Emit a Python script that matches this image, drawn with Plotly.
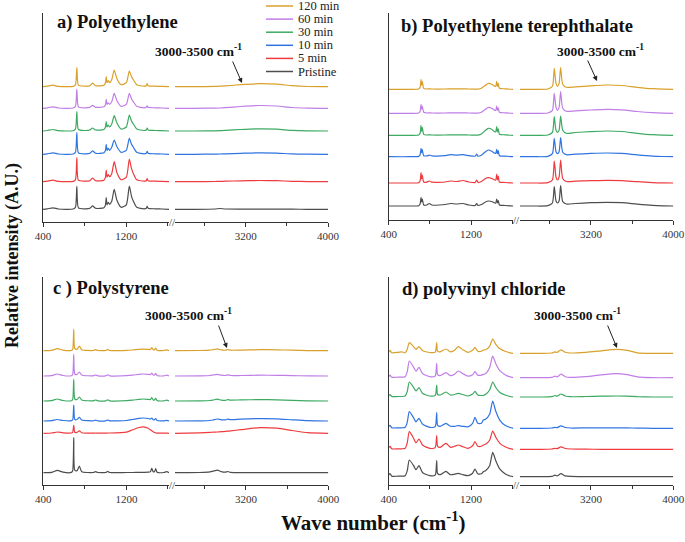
import plotly.graph_objects as go

# ---------------- data ----------------
SERIES = ["120 min", "60 min", "30 min", "10 min", "5 min", "Pristine"]
COLORS = ["#D9A12B", "#C07EE6", "#3DAA62", "#2F74E0", "#EE3B3F", "#4D4D4D"]
TITLES = ["a) Polyethylene", "b) Polyethylene terephthalate", "c ) Polystyrene", "d) polyvinyl chloride"]

# vertical stacking offsets (120, 60, 30, 10, 5, Pristine)
PE_OFFSETS = [135.3, 113.7, 91, 67.7, 40.3, 12.7]
PET_OFFSETS = [130.7, 106.7, 84.7, 63.3, 37, 14]
PS_OFFSETS = [134.3, 109, 84, 64, 51.7, 12.3]
PVC_OFFSETS = [131.7, 107.3, 88, 56.7, 35.7, 8.3]

# ---- a) Polyethylene ----
PE_LX = [400, 440, 496, 550, 690, 712, 725, 740, 800, 850, 875, 905, 985, 1000, 1007, 1015, 1027, 1040,
         1060, 1084, 1110, 1150, 1200, 1229, 1250, 1268, 1300, 1370, 1392, 1400, 1410, 1480, 1540, 1610]
PE_L_120 = [0, 0.5, 1.5, 0.3, 0.3, 2, 19, 1.5, 0.5, 1, 3.5, 1, 1.5, 4, 10, 4, 6, 4, 7, 16.7, 8, 2, 4, 15.7, 10, 7, 2, 0.5, 1, 3, 1, 0.5, 0.3, 0]
PE_L_60 = [0, 0.5, 1.5, 0.3, 0.3, 2, 19, 1.5, 0.5, 1, 3, 1, 1.5, 3.5, 9, 4, 5.5, 4, 6.5, 15, 7.5, 2, 4, 15, 9.5, 6.5, 2, 0.5, 1, 2.5, 1, 0.5, 0.3, 0]
PE_L_30 = [0, 0.5, 1.5, 0.3, 0.3, 2, 19.3, 1.5, 0.5, 1, 3, 1, 1.5, 4, 9.5, 4, 6, 4, 7, 15.3, 8, 2, 4, 16, 10, 7, 2, 0.5, 1, 3, 1, 0.5, 0.3, 0]
PE_L_10 = [0, 0.5, 1.5, 0.3, 0.3, 2, 21.7, 1.5, 0.5, 1, 3.5, 1, 1.5, 4, 10, 4, 6, 4, 7, 14.3, 7.5, 2, 4, 16, 10, 7, 2, 0.5, 1, 3, 1, 0.5, 0.3, 0]
PE_L_5 = [0, 0.5, 1.5, 0.3, 0.3, 2, 24, 1.5, 0.5, 1, 3.5, 1, 1.5, 4.5, 11.7, 4.5, 7, 5, 8, 20, 9, 2, 4.5, 22.7, 13, 8, 2, 0.5, 1, 3, 1, 0.5, 0.3, 0]
PE_L_P = [0, 0.5, 1.5, 0.3, 0.3, 2, 23, 1.5, 0.5, 1, 3.5, 1, 1.5, 4.5, 11.7, 4.5, 7, 5, 8, 20, 9, 2, 4.5, 23.3, 13, 8, 2, 0.5, 1, 3, 1, 0.5, 0.3, 0]
PE_RX = [2510, 2700, 2900, 2946, 3000, 3150, 3330, 3500, 3650, 3800, 4000]
PE_R_120 = [0, 0, 0.3, 0.5, 0.8, 2, 3, 2.5, 1, 0.2, 0]
PE_R_60 = [0, 0, 0.2, 0.3, 0.6, 1.8, 2.8, 2.3, 0.8, 0.2, 0]
PE_R_30 = [0, 0, 0.2, 0.3, 0.6, 1.5, 2.2, 1.8, 0.6, 0.1, 0]
PE_R_10 = [0, 0, 0.2, 0.3, 0.5, 1.0, 1.5, 1.2, 0.4, 0.1, 0]
PE_R_5 = [0, 0, 0.2, 0.3, 0.5, 0.9, 1.2, 1.0, 0.4, 0.1, 0]
PE_R_P = [0, 0, 0.3, 0.8, 0.3, 0.2, 0.2, 0.2, 0.1, 0, 0]

# ---- b) PET ----
PET_LX = [400, 600, 690, 705, 714, 720, 726, 740, 770, 794, 820, 950, 1000, 1060, 1121, 1180, 1240, 1254, 1268,
          1300, 1340, 1367, 1400, 1430, 1440, 1449, 1456, 1464, 1475, 1530, 1610]
PET_L_120 = [0, 0, 0.3, 2, 10, 4, 8, 1, 0.3, 0.5, 0.3, 0.3, 0.5, 0.5, 0.5, 0.3, 0.2, 0.2, 0.2, 1, 4, 6, 5, 3, 3, 8, 3, 6, 1, 0.5, 0]
PET_L_60 = [0, 0, 0.3, 2, 9, 4, 7, 1, 0.3, 0.5, 0.3, 0.3, 0.5, 0.5, 0.5, 0.3, 0.2, 0.2, 0.2, 1, 4, 6, 5, 3, 3, 7.3, 3, 5.5, 1, 0.5, 0]
PET_L_30 = [0, 0, 0.3, 2, 10, 4, 8, 1, 0.3, 0.5, 0.3, 0.3, 0.5, 0.5, 0.5, 0.3, 0.2, 0.2, 0.2, 1.2, 5, 7, 6, 3.5, 3.5, 8.7, 3.5, 6.5, 1, 0.5, 0]
PET_L_10 = [0, 0, 0.3, 2, 8.3, 4, 7, 1, 0.8, 1.5, 0.8, 1, 2, 1.5, 2, 1, 0.5, 2.5, 0.5, 1.5, 5, 6.7, 5.5, 3.5, 3.5, 7.3, 3, 6, 1, 0.5, 0]
PET_L_5 = [0, 0, 0.3, 2, 10.3, 4, 8, 1, 0.8, 2, 0.8, 1, 2, 1.5, 2.5, 1, 0.5, 3, 0.5, 1.5, 4.5, 5.3, 4.5, 3, 3, 9, 3, 7, 1, 0.5, 0]
PET_L_P = [0, 0, 0.3, 2, 8.7, 4, 7, 1, 1, 2.5, 1, 1.5, 2.5, 2, 2.5, 1, 0.5, 2.5, 0.5, 1.5, 4, 5, 4.5, 3, 3, 7, 3, 5.5, 1, 0.5, 0]
PET_RX = [2510, 2650, 2780, 2825, 2843, 2860, 2875, 2890, 2905, 2925, 2960, 3050, 3200, 3353, 3500, 3650, 3800, 3900, 4000]
PET_R_120 = [0, 0, 0.3, 3, 21, 6, 3, 6, 21.7, 5, 2, 2.5, 3.5, 4.3, 3.8, 2, 0.6, 0.2, 0]
PET_R_60 = [0, 0, 0.3, 3, 20, 6, 3, 6, 21.7, 5, 2, 2.5, 3.3, 4, 3.5, 1.8, 0.6, 0.2, 0]
PET_R_30 = [0, 0, 0.3, 3, 18.7, 5, 3, 5, 19.3, 5, 2, 2.8, 3.7, 4.3, 3.8, 2, 0.6, 0.2, 0]
PET_R_10 = [0, 0, 0.3, 3, 18.3, 5, 3, 5, 19, 4.5, 2, 2.5, 3.3, 3.7, 3.3, 1.8, 0.6, 0.2, 0]
PET_R_5 = [0, 0, 0.3, 3, 22, 6, 3, 6, 23, 4.5, 1.5, 1.8, 2.3, 2.7, 2.4, 1.3, 0.4, 0.1, 0]
PET_R_P = [0, 0, 0.3, 3, 19.3, 5, 3, 5, 20.3, 4.5, 2, 2.5, 3.3, 3.7, 3.3, 1.8, 0.6, 0.2, 0]

# ---- c) Polystyrene ----
PS_LX = [400, 480, 535, 590, 670, 683, 693, 703, 725, 747, 770, 880, 904, 925, 1000, 1020, 1040, 1200, 1260,
         1320, 1363, 1410, 1430, 1444, 1458, 1470, 1482, 1495, 1560, 1588, 1610]
PS_L_120 = [0, 0.3, 2, 0.5, 0.3, 1.5, 21.3, 2, 1.5, 4.7, 1, 0.2, 1, 0.2, 0.2, 1.3, 0.2, 0.3, 0.7, 1.3, 1.5, 1.3, 1.2, 3, 1, 1, 2.7, 0.5, 0.2, 0.8, 0]
PS_L_60 = [0, 0.3, 2, 0.5, 0.3, 1.5, 21.7, 2, 1.5, 4, 1, 0.2, 1, 0.2, 0.2, 1.2, 0.2, 0.3, 0.8, 1.6, 2, 1.6, 1.4, 3, 1, 1, 2.7, 0.5, 0.2, 0.8, 0]
PS_L_30 = [0, 0.3, 2, 0.5, 0.3, 1.5, 21.7, 2, 1.5, 4, 1, 0.2, 1, 0.2, 0.2, 1.2, 0.2, 0.3, 0.8, 1.6, 2, 1.6, 1.4, 3.5, 1, 1, 2.7, 0.5, 0.2, 0.8, 0]
PS_L_10 = [0, 0.3, 1.5, 0.5, 0.3, 1.2, 16, 1.5, 1.5, 3.7, 1, 0.2, 0.8, 0.2, 0.2, 1, 0.2, 0.5, 1.5, 2.6, 3, 2.5, 1.8, 3, 1.2, 1.1, 2.5, 0.5, 0.2, 0.6, 0]
PS_L_5 = [0, 0.3, 1.3, 0.5, 0.3, 1, 8.3, 1, 1, 2.5, 0.6, 0.2, 0.3, 0.2, 0.2, 0.3, 0.3, 1.2, 3.5, 5.8, 6.5, 5, 3.5, 2.5, 1.5, 0.8, 0.5, 0.2, 0.1, 0.1, 0]
PS_L_P = [0, 0.3, 2.3, 0.5, 0.3, 2, 35, 2.5, 2, 6.7, 1, 0.2, 1, 0.2, 0.2, 1.3, 0.2, 0.2, 0.2, 0.3, 0.4, 0.5, 0.8, 4.3, 1, 1, 4, 0.5, 0.2, 1, 0]
PS_RX = [2510, 2750, 2850, 2880, 2922, 2960, 3000, 3023, 3050, 3150, 3336, 3500, 3650, 3800, 4000]
PS_R_120 = [0, 0.2, 0.5, 1, 1.8, 0.8, 0.5, 1.2, 0.5, 0.6, 1, 0.9, 0.5, 0.1, 0]
PS_R_60 = [0, 0.2, 0.5, 1, 1.6, 0.8, 0.5, 1.2, 0.5, 0.5, 0.8, 0.7, 0.4, 0.1, 0]
PS_R_30 = [0, 0.2, 0.5, 1, 1.8, 0.9, 0.7, 1.4, 0.9, 1.1, 1.4, 1.2, 0.6, 0.1, 0]
PS_R_10 = [0, 0.2, 0.5, 1, 2, 1.2, 1.2, 1.8, 1.4, 1.9, 2.4, 2.2, 1.2, 0.3, 0]
PS_R_5 = [0, 0.5, 0.9, 1.1, 1.3, 1.6, 1.9, 2.1, 2.4, 3.6, 5.7, 5.1, 2.8, 0.6, 0]
PS_R_P = [0, 0.2, 0.8, 1.5, 2.5, 1, 0.5, 1.2, 0.3, 0, 0, 0, 0, 0, 0]

# ---- d) PVC ----
PVC_LX = [400, 413, 430, 490, 526, 560, 580, 600, 639, 665, 694, 730, 800, 850, 858, 866, 875, 900, 956, 1000,
          1040, 1076, 1120, 1170, 1215, 1238, 1265, 1300, 1319, 1340, 1380, 1410, 1440, 1480, 1530, 1578, 1610]
PVC_L_120 = [1, 3, 0.5, 1, 1.5, 0.5, 4, 10.7, 7, 4, 6.7, 2.5, 0.8, 1, 3, 10.7, 2, 1.5, 4.3, 1.5, 3, 6.7, 3.5, 1, 3, 6, 2, 2, 3.3, 3.5, 7, 14.3, 9, 4.5, 2, 0.5, 0]
PVC_L_60 = [1, 2.5, 0.5, 0.5, 0.5, 1, 6, 16.7, 11, 6.5, 10.3, 4, 1, 1.5, 4, 14.3, 3, 2, 5, 2, 3.5, 6.7, 4, 1.5, 3, 6, 2.5, 2.5, 3.3, 4, 10, 21.7, 14, 7, 3, 0.8, 0]
PVC_L_30 = [1, 2.5, 0.5, 0.5, 0.5, 1, 5.5, 15, 10, 6, 9.3, 3.5, 1, 1.5, 3.5, 12, 2.5, 2, 5, 2, 2.5, 3.7, 2.5, 1, 3, 5.7, 2, 1.5, 1.7, 2.5, 7, 15, 9.5, 4.5, 2, 0.5, 0]
PVC_L_10 = [2, 3, 0.5, 0.5, 0.5, 1, 6, 16.7, 11, 6.5, 10, 4, 1, 1.5, 4, 15.7, 3, 2, 5, 2, 2, 2.7, 2, 1.5, 5, 11, 5, 5, 8.3, 9, 14, 27.3, 17, 8, 3, 0.8, 0]
PVC_L_5 = [1.5, 3, 0.5, 0.5, 0.5, 1, 6.5, 17.7, 11.5, 6.5, 10.3, 4, 1, 1.5, 4, 13.7, 3, 2, 6, 2, 3, 4.3, 2.5, 1, 3.5, 7.7, 3, 3, 4.3, 5, 9, 18.3, 12, 6, 2.5, 0.6, 0]
PVC_L_P = [2, 3, 0.5, 0.5, 0.5, 1, 6, 16.7, 11.5, 7, 11, 4, 1, 1.5, 4, 16, 3, 2, 5.3, 2, 2.5, 3.3, 2, 1, 3.5, 7.7, 3, 3, 5, 6, 11, 24.3, 16, 7.5, 3, 0.7, 0]
PVC_RX = [2510, 2700, 2820, 2850, 2870, 2908, 2950, 3000, 3150, 3300, 3450, 3550, 3650, 3800, 4000]
PVC_R_120 = [0, 0, 0.3, 1.5, 0.8, 3.5, 1, 0.3, 1, 2.5, 4, 3, 0.5, 0, 0]
PVC_R_60 = [0, 0, 0.3, 1.5, 0.8, 3.5, 1, 0.3, 1, 2.8, 4, 3, 0.8, 0, 0]
PVC_R_30 = [0, 0, 0.3, 1.5, 0.8, 3, 1, 0.3, 0.5, 0.8, 1, 0.8, 0.3, 0, 0]
PVC_R_10 = [0, 0, 0.3, 1, 0.6, 2.5, 0.8, 0.3, 0.4, 0.5, 0.5, 0.4, 0.2, 0, 0]
PVC_R_5 = [0, 0, 0.3, 1, 0.6, 2.5, 0.8, 0.3, 0.1, 0, 0, 0, 0, 0, 0]
PVC_R_P = [0, 0, 0.3, 1.5, 0.8, 3, 0.8, 0.3, 0.1, 0, 0, 0, 0, 0, 0]

X_LEFT_RANGE = [400, 1610]
X_RIGHT_RANGE = [2510, 4000]
ANNOT_TEXT = "3000-3500 cm<sup>-1</sup>"

PANELS = [
    dict(offs=PE_OFFSETS, lx=PE_LX, rx=PE_RX,
         left=[PE_L_120, PE_L_60, PE_L_30, PE_L_10, PE_L_5, PE_L_P],
         right=[PE_R_120, PE_R_60, PE_R_30, PE_R_10, PE_R_5, PE_R_P]),
    dict(offs=PET_OFFSETS, lx=PET_LX, rx=PET_RX,
         left=[PET_L_120, PET_L_60, PET_L_30, PET_L_10, PET_L_5, PET_L_P],
         right=[PET_R_120, PET_R_60, PET_R_30, PET_R_10, PET_R_5, PET_R_P]),
    dict(offs=PS_OFFSETS, lx=PS_LX, rx=PS_RX,
         left=[PS_L_120, PS_L_60, PS_L_30, PS_L_10, PS_L_5, PS_L_P],
         right=[PS_R_120, PS_R_60, PS_R_30, PS_R_10, PS_R_5, PS_R_P]),
    dict(offs=PVC_OFFSETS, lx=PVC_LX, rx=PVC_RX,
         left=[PVC_L_120, PVC_L_60, PVC_L_30, PVC_L_10, PVC_L_5, PVC_L_P],
         right=[PVC_R_120, PVC_R_60, PVC_R_30, PVC_R_10, PVC_R_5, PVC_R_P]),
]

# ---------------- layout geometry (pixels) ----------------
W, H = 685, 542
GEO = [
    dict(xl=(43, 169), xr=(175, 328), yt=13, yb=222, title=(55, 23), txt=(198, 51), arr=((232, 60), (242, 83))),
    dict(xl=(388.7, 513.3), xr=(520, 673.3), yt=13, yb=220, title=(399, 26), txt=(600, 51), arr=((587, 59), (597, 81))),
    dict(xl=(43.3, 169), xr=(175, 328.3), yt=276.7, yb=485, title=(51, 288), txt=(188, 314), arr=((218, 324), (227, 348))),
    dict(xl=(388.7, 513.3), xr=(520, 673.3), yt=276.7, yb=485, title=(400, 289), txt=(577, 314), arr=((607, 324), (617, 348))),
]


def fx(p):
    return p / W


def fy(p):
    return 1 - p / H


SERIF = "Liberation Serif, Times New Roman, serif"
fig = go.Figure()
layout = dict(width=W, height=H, margin=dict(l=0, r=0, t=0, b=0, autoexpand=False),
              paper_bgcolor="white", plot_bgcolor="white", showlegend=False)
annotations = []
shapes = []

tickfont = dict(family=SERIF, size=11, color="#333333")

for i, (pan, g) in enumerate(zip(PANELS, GEO)):
    xl_id = 2 * i + 1
    xr_id = 2 * i + 2
    y_id = i + 1
    xl_name = "xaxis" if xl_id == 1 else f"xaxis{xl_id}"
    xr_name = f"xaxis{xr_id}"
    y_name = "yaxis" if y_id == 1 else f"yaxis{y_id}"
    xl_ref = "x" if xl_id == 1 else f"x{xl_id}"
    xr_ref = f"x{xr_id}"
    y_ref = "y" if y_id == 1 else f"y{y_id}"

    common_x = dict(showgrid=False, zeroline=False, showline=True, linecolor="#333333", linewidth=1,
                    automargin=False,
                    ticks="outside", ticklen=4, tickcolor="#333333", tickwidth=1, tickfont=tickfont,
                    dtick=800, minor=dict(dtick=400, tick0=0, ticks="outside", ticklen=3,
                                          tickcolor="#333333", showgrid=False))
    layout[xl_name] = dict(common_x, domain=[fx(g["xl"][0]), fx(g["xl"][1])], range=X_LEFT_RANGE,
                           tick0=400, anchor=y_ref)
    layout[xr_name] = dict(common_x, domain=[fx(g["xr"][0]), fx(g["xr"][1])], range=X_RIGHT_RANGE,
                           tick0=0, anchor=y_ref)
    layout[y_name] = dict(domain=[fy(g["yb"]), fy(g["yt"])], range=[0, g["yb"] - g["yt"]],
                          showgrid=False, zeroline=False, showline=True, linecolor="#333333",
                          linewidth=1, ticks="", showticklabels=False, anchor=xl_ref, automargin=False)

    for k, name in enumerate(SERIES):
        off = pan["offs"][k]
        fig.add_trace(go.Scatter(x=pan["lx"], y=[v + off for v in pan["left"][k]], mode="lines",
                                 line=dict(color=COLORS[k], width=1.2, shape="spline", smoothing=0.6),
                                 xaxis=xl_ref, yaxis=y_ref, name=name, hoverinfo="skip"))
        fig.add_trace(go.Scatter(x=pan["rx"], y=[v + off for v in pan["right"][k]], mode="lines",
                                 line=dict(color=COLORS[k], width=1.2, shape="spline", smoothing=0.6),
                                 xaxis=xr_ref, yaxis=y_ref, name=name, showlegend=False, hoverinfo="skip"))

    # panel title
    annotations.append(dict(text=TITLES[i], xref="paper", yref="paper", x=fx(g["title"][0]), y=fy(g["title"][1]),
                            xanchor="left", yanchor="middle", showarrow=False,
                            font=dict(family=SERIF, size=18.5, color="#111111", weight="bold")))
    # region label
    annotations.append(dict(text=ANNOT_TEXT, xref="paper", yref="paper", x=fx(g["txt"][0]), y=fy(g["txt"][1]),
                            xanchor="center", yanchor="middle", showarrow=False,
                            font=dict(family=SERIF, size=13.5, color="#111111", weight="bold")))
    (tx, ty), (hx, hy) = g["arr"]
    annotations.append(dict(text="", xref="paper", yref="paper", x=fx(hx), y=fy(hy),
                            ax=tx - hx, ay=ty - hy, showarrow=True, arrowhead=2, arrowsize=1,
                            arrowwidth=1, arrowcolor="#222222"))
    # axis break mark
    annotations.append(dict(text="//", xref="paper", yref="paper",
                            x=fx((g["xl"][1] + g["xr"][0]) / 2), y=fy(g["yb"]),
                            xanchor="center", yanchor="middle", showarrow=False,
                            font=dict(family=SERIF, size=11, color="#333333")))

# custom legend (compact)
LEG_X0, LEG_X1, LEG_TX, LEG_Y0, LEG_STEP = 266, 293, 296, 6, 13.1
for k, name in enumerate(SERIES):
    yy = LEG_Y0 + k * LEG_STEP
    shapes.append(dict(type="line", xref="paper", yref="paper", x0=fx(LEG_X0), x1=fx(LEG_X1),
                       y0=fy(yy), y1=fy(yy), line=dict(color=COLORS[k], width=1.5)))
    annotations.append(dict(text=name, xref="paper", yref="paper", x=fx(LEG_TX), y=fy(yy),
                            xanchor="left", yanchor="middle", showarrow=False,
                            font=dict(family=SERIF, size=12.5, color="#222222")))

# axis titles
annotations.append(dict(text="Relative intensity (A.U.)", xref="paper", yref="paper", x=fx(12), y=fy(256),
                        xanchor="center", yanchor="middle", textangle=-90, showarrow=False,
                        font=dict(family=SERIF, size=18, color="#111111", weight="bold")))
annotations.append(dict(text="Wave number (cm<sup>-1</sup>)", xref="paper", yref="paper", x=fx(374), y=fy(521),
                        xanchor="center", yanchor="middle", showarrow=False,
                        font=dict(family=SERIF, size=21, color="#111111", weight="bold")))

layout["annotations"] = annotations
layout["shapes"] = shapes
fig.update_layout(**layout)
# remove the default page margin so the figure sits at the window's top-left corner
fig.write_html("out.html", config={"displayModeBar": False, "staticPlot": True},
               post_script="document.body.style.margin='0';document.body.style.overflow='hidden';")
